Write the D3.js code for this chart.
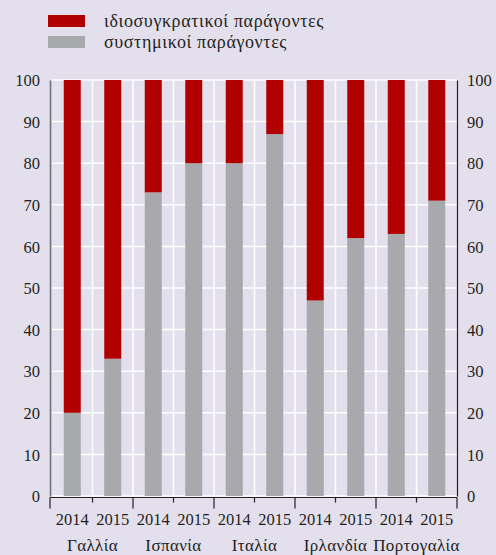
<!DOCTYPE html>
<html>
<head>
<meta charset="utf-8">
<script src="https://cdn.jsdelivr.net/npm/d3@7"></script>
<style>
  body { margin: 0; background: #e3dfec; }
</style>
</head>
<body>
<div id="chart"></div>
<script>
const countries = ['Γαλλία', 'Ισπανία', 'Ιταλία', 'Ιρλανδία', 'Πορτογαλία'];
const years = ['2014', '2015'];
const systemic = [20, 33, 73, 80, 80, 87, 47, 62, 63, 71];
const idiosyncratic = systemic.map(v => 100 - v);
const yTicks = [0, 10, 20, 30, 40, 50, 60, 70, 80, 90, 100];
const seriesNames = ['ιδιοσυγκρατικοί παράγοντες', 'συστημικοί παράγοντες'];
const colors = ['#b00000', '#a7a9ac'];

const width = 496, height = 555;
const plotL = 52, plotR = 457, plotT = 80, plotB = 496;
const font = '"Liberation Serif", "Times New Roman", serif';
const fontSize = '16.5px';
const textColor = '#231f20';

const svg = d3.select('#chart').append('svg')
    .attr('width', width)
    .attr('height', height);

svg.append('rect').attr('width', width).attr('height', height).attr('fill', '#e3dfec');

const bars = [];
countries.forEach((c, i) => years.forEach((y, j) => bars.push({
    key: c + y, year: y, country: c,
    sys: systemic[i * 2 + j], idio: idiosyncratic[i * 2 + j]
})));

const x = d3.scaleBand().domain(bars.map(d => d.key)).range([plotL, plotR]).paddingInner(0).paddingOuter(0);
const y = d3.scaleLinear().domain([0, 100]).range([plotB, plotT]);
const barW = 17;

// gridlines
svg.append('g').selectAll('line').data(yTicks).join('line')
    .attr('x1', plotL).attr('x2', plotR)
    .attr('y1', d => y(d)).attr('y2', d => y(d))
    .attr('stroke', '#fff').attr('stroke-width', 1.5);
svg.append('g').selectAll('line').data(bars.map(d => x(d.key)).slice(1)).join('line')
    .attr('x1', d => d).attr('x2', d => d)
    .attr('y1', plotT).attr('y2', plotB)
    .attr('stroke', '#fff').attr('stroke-width', 1.5);

// stacked bars
const g = svg.append('g');
g.selectAll('.sys').data(bars).join('rect')
    .attr('x', d => x(d.key) + x.bandwidth() / 2 - barW / 2)
    .attr('width', barW)
    .attr('y', d => y(d.sys))
    .attr('height', d => y(0) - y(d.sys))
    .attr('fill', colors[1]);
g.selectAll('.idio').data(bars).join('rect')
    .attr('x', d => x(d.key) + x.bandwidth() / 2 - barW / 2)
    .attr('width', barW)
    .attr('y', d => y(d.sys + d.idio))
    .attr('height', d => y(d.sys) - y(d.sys + d.idio))
    .attr('fill', colors[0]);

// left axis
const la = svg.append('g').attr('transform', `translate(${plotL - 2},0)`)
    .call(d3.axisLeft(y).tickValues(yTicks).tickSize(0).tickPadding(10));
la.select('.domain').attr('stroke', '#6d6e71').attr('stroke-width', 1.5);

// right axis
const ra = svg.append('g').attr('transform', `translate(${plotR},0)`)
    .call(d3.axisRight(y).tickValues(yTicks).tickSize(0).tickPadding(10));
ra.select('.domain').attr('stroke', textColor).attr('stroke-width', 1.2);

[la, ra].forEach(a => a.attr('font-family', null).attr('font-size', null)
    .selectAll('text')
    .style('font-family', font).style('font-size', fontSize)
    .attr('fill', textColor).attr('dy', '0.35em'));

// bottom axis
const axY = plotB + 1.5;
svg.append('line').attr('x1', plotL - 2).attr('x2', plotR).attr('y1', axY).attr('y2', axY)
    .attr('stroke', textColor).attr('stroke-width', 1.2);
const edges = bars.map(d => x(d.key)).concat([plotR]);
svg.append('g').selectAll('line').data(edges).join('line')
    .attr('x1', (d, i) => i === 0 ? plotL - 2 : d).attr('x2', (d, i) => i === 0 ? plotL - 2 : d)
    .attr('y1', axY)
    .attr('y2', (d, i) => axY + (i % 2 === 0 ? 11 : 5))
    .attr('stroke', textColor).attr('stroke-width', 1.2);

svg.append('g').selectAll('text').data(bars).join('text')
    .attr('x', d => x(d.key) + x.bandwidth() / 2)
    .attr('y', 525)
    .attr('text-anchor', 'middle')
    .attr('fill', textColor)
    .style('font-family', font).style('font-size', fontSize)
    .text(d => d.year);

svg.append('g').selectAll('text').data(countries).join('text')
    .attr('x', (d, i) => x(bars[i * 2].key) + x.bandwidth())
    .attr('y', 551)
    .attr('text-anchor', 'middle')
    .attr('fill', textColor)
    .style('font-family', font).style('font-size', '17px')
    .style('letter-spacing', '0.4px')
    .text(d => d);

// legend
const lg = svg.append('g').selectAll('g').data(seriesNames).join('g')
    .attr('transform', (d, i) => `translate(48,${15 + i * 21})`);
lg.append('rect').attr('width', 37).attr('height', 12).attr('fill', (d, i) => colors[i]);
lg.append('text').attr('x', 56).attr('y', 11.5)
    .attr('fill', textColor)
    .style('font-family', font).style('font-size', '18px')
    .style('letter-spacing', '0.6px')
    .text(d => d);
</script>
</body>
</html>
